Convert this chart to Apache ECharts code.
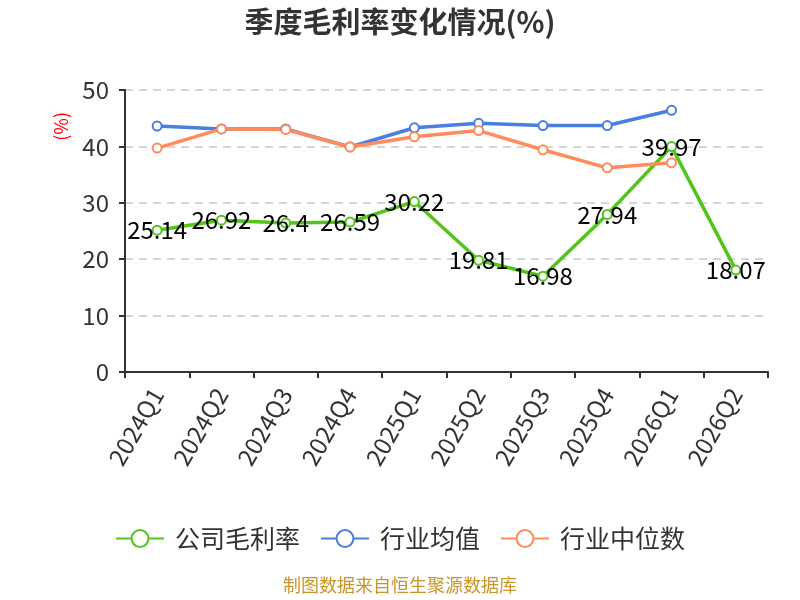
<!DOCTYPE html>
<html>
<head>
<meta charset="utf-8">
<script src="https://cdn.jsdelivr.net/npm/echarts@6/dist/echarts.min.js"></script>
<style>
  html, body { margin: 0; padding: 0; background: #fff; }
  #chart { width: 800px; height: 600px; }
</style>
</head>
<body>
<div id="chart"></div>
<script>
// 季度毛利率数据
const quarters = ['2024Q1', '2024Q2', '2024Q3', '2024Q4', '2025Q1', '2025Q2', '2025Q3', '2025Q4', '2026Q1', '2026Q2']
const companyMargin = [25.14, 26.92, 26.4, 26.59, 30.22, 19.81, 16.98, 27.94, 39.97, 18.07]
const industryAvg = [43.6, 43.1, 43.1, 39.9, 43.3, 44.1, 43.7, 43.7, 46.4, null]
const industryMedian = [39.7, 43.1, 43.0, 39.9, 41.7, 42.8, 39.4, 36.2, 37.1, null]

const font = '"Noto Sans CJK SC", "Noto Sans", sans-serif'

const chart = echarts.init(document.getElementById('chart'))

const option = {
  animation: false,
  textStyle: { fontFamily: font },
  title: {
    text: '季度毛利率变化情况(%)',
    left: 'center',
    top: 2,
    textStyle: { fontSize: 29, fontWeight: 'bold', color: '#333', fontFamily: font }
  },
  legend: {
    bottom: 44,
    left: 'center',
    itemWidth: 48,
    itemHeight: 21,
    itemGap: 20,
    textStyle: { fontSize: 25, color: '#333', fontFamily: font, padding: [0, 0, 0, 6] },
    data: ['公司毛利率', '行业均值', '行业中位数']
  },
  graphic: [
    {
      type: 'text',
      left: 52,
      top: 112,
      rotation: Math.PI / 2,
      style: { text: '(%)', fill: '#ff0000', fontSize: 18, fontFamily: font }
    },
    {
      type: 'text',
      left: 'center',
      top: 576,
      style: { text: '制图数据来自恒生聚源数据库', fill: '#c8952c', fontSize: 18, fontFamily: font }
    }
  ],
  grid: {
    left: 125,
    right: 32,
    top: 90,
    bottom: 228
  },
  xAxis: {
    type: 'category',
    data: quarters,
    boundaryGap: true,
    axisLine: { lineStyle: { color: '#333', width: 2 } },
    axisTick: { show: true, length: 6, lineStyle: { color: '#333', width: 2 } },
    axisLabel: { rotate: 60, fontSize: 24, color: '#333', margin: 18, interval: 0 }
  },
  yAxis: {
    type: 'value',
    min: 0,
    max: 50,
    interval: 10,
    axisLine: { show: true, lineStyle: { color: '#333', width: 2 } },
    axisTick: { show: true, length: 6, lineStyle: { color: '#333', width: 2 } },
    axisLabel: { fontSize: 24, color: '#333', margin: 16 },
    splitLine: { lineStyle: { type: [8, 6], color: '#c8c8c8', width: 1.5 } }
  },
  series: [
    {
      name: '公司毛利率',
      type: 'line',
      data: companyMargin,
      symbol: 'emptyCircle',
      symbolSize: 9,
      z: 3,
      itemStyle: { color: '#52c41a', borderWidth: 2 },
      lineStyle: { width: 3.5, color: '#52c41a' },
      label: {
        show: true,
        position: 'inside',
        fontSize: 24,
        color: '#000',
        fontFamily: font
      }
    },
    {
      name: '行业均值',
      type: 'line',
      data: industryAvg,
      symbol: 'emptyCircle',
      symbolSize: 9,
      itemStyle: { color: '#4a7ee0', borderWidth: 2 },
      lineStyle: { width: 3.5, color: '#4a7ee0' }
    },
    {
      name: '行业中位数',
      type: 'line',
      data: industryMedian,
      symbol: 'emptyCircle',
      symbolSize: 9,
      itemStyle: { color: '#ff8c5a', borderWidth: 2 },
      lineStyle: { width: 3.5, color: '#ff8c5a' }
    }
  ]
}

chart.setOption(option)
window.addEventListener('resize', () => chart.resize())
</script>
</body>
</html>
